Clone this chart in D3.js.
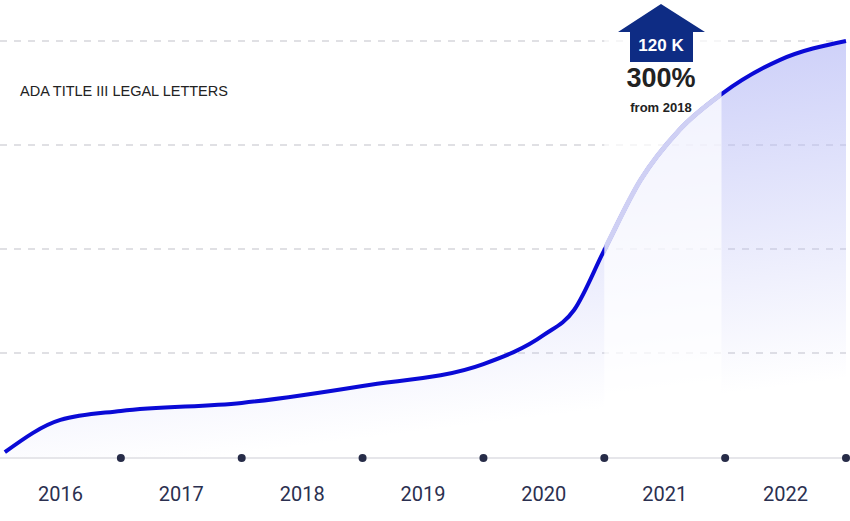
<!DOCTYPE html><html><head><meta charset="utf-8"><script src="https://cdn.jsdelivr.net/npm/d3@7"></script>
<style>body{margin:0;background:#fff}svg{display:block}</style></head><body><svg id="c" width="850" height="521"></svg>
<script>
const years=["2016","2017","2018","2019","2020","2021","2022"];
const curveT=[0.04,0.5,1,2,3,4,4.5,4.75,5,5.3,5.62,5.97,6.45,7];
const curveV=[1.4,10.7,13.3,15.6,20.5,26.8,35.2,42.4,59.7,79.9,94.3,104.7,114.5,120];
const gridVals=[30,60,90,120];
const pts=curveT.map((t,i)=>({t,v:curveV[i]}));
const svg=d3.select("#c");
const x=d3.scaleLinear().domain([0,7]).range([0,846]);
const y=d3.scaleLinear().domain([0,120]).range([457,41]);
const defs=svg.append("defs");
const g=defs.append("linearGradient").attr("id","gr").attr("x1",0).attr("y1",0).attr("x2",0.25).attr("y2",1);
g.append("stop").attr("offset","0").attr("stop-color","#b9bdf6").attr("stop-opacity",0.9);
g.append("stop").attr("offset","1").attr("stop-color","#b9bdf6").attr("stop-opacity",0.0);
svg.selectAll(".grid").data(gridVals).join("line").attr("x1",0).attr("x2",846).attr("y1",d=>y(d)).attr("y2",d=>y(d)).attr("stroke","#e0e0e4").attr("stroke-width",2).attr("stroke-dasharray","7,7");
const line=d3.line().x(d=>x(d.t)).y(d=>y(d.v)).curve(d3.curveMonotoneX);
const area=d3.area().x(d=>x(d.t)).y0(y(0)).y1(d=>y(d.v)).curve(d3.curveMonotoneX);
svg.append("path").datum(pts).attr("d",area).attr("fill","url(#gr)");
defs.append("clipPath").attr("id","c21").append("rect").attr("x",x(5)).attr("width",x(5.97)-x(5)).attr("y",0).attr("height",460);
svg.append("rect").attr("x",x(5)).attr("width",x(5.97)-x(5)).attr("y",0).attr("height",457).attr("fill","#fff").attr("opacity",0.7);
svg.append("path").datum(pts).attr("d",line).attr("fill","none").attr("stroke","#0a0ad6").attr("stroke-width",4);
svg.append("path").datum(pts).attr("d",line).attr("fill","none").attr("stroke","#cfd0f4").attr("stroke-width",5).attr("clip-path","url(#c21)");
svg.append("line").attr("x1",0).attr("x2",846).attr("y1",458).attr("y2",458).attr("stroke","#e6e6ea").attr("stroke-width",2);
svg.selectAll(".dot").data(d3.range(1,8)).join("circle").attr("cx",d=>x(d)).attr("cy",458).attr("r",4).attr("fill","#272c48");
svg.selectAll(".yl").data(years).join("text").attr("x",(d,i)=>x(i+0.5)).attr("y",501).attr("text-anchor","middle").attr("font-family","Roboto, sans-serif").attr("font-size",20).attr("fill","#2b3050").text(d=>d);
svg.append("text").attr("x",20).attr("y",96).attr("font-family","Liberation Sans, Arial, sans-serif").attr("font-size",14.5).attr("fill","#222").text("ADA TITLE III LEGAL LETTERS");
svg.append("path").attr("d","M618,32 L661,4 L705,32 L693,32 L693,62 L630,62 L630,32 Z").attr("fill","#0e2c84");
svg.append("text").attr("x",661).attr("y",51).attr("text-anchor","middle").attr("font-family","Liberation Sans, Arial, sans-serif").attr("font-weight","bold").attr("font-size",17).attr("fill","#fff").text("120 K");
svg.append("text").attr("x",661).attr("y",87).attr("text-anchor","middle").attr("font-family","Liberation Sans, Arial, sans-serif").attr("font-weight","bold").attr("font-size",27).attr("fill","#222").text("300%");
svg.append("text").attr("x",661).attr("y",112).attr("text-anchor","middle").attr("font-family","Liberation Sans, Arial, sans-serif").attr("font-weight","bold").attr("font-size",13).attr("fill","#222").text("from 2018");
</script></body></html>
